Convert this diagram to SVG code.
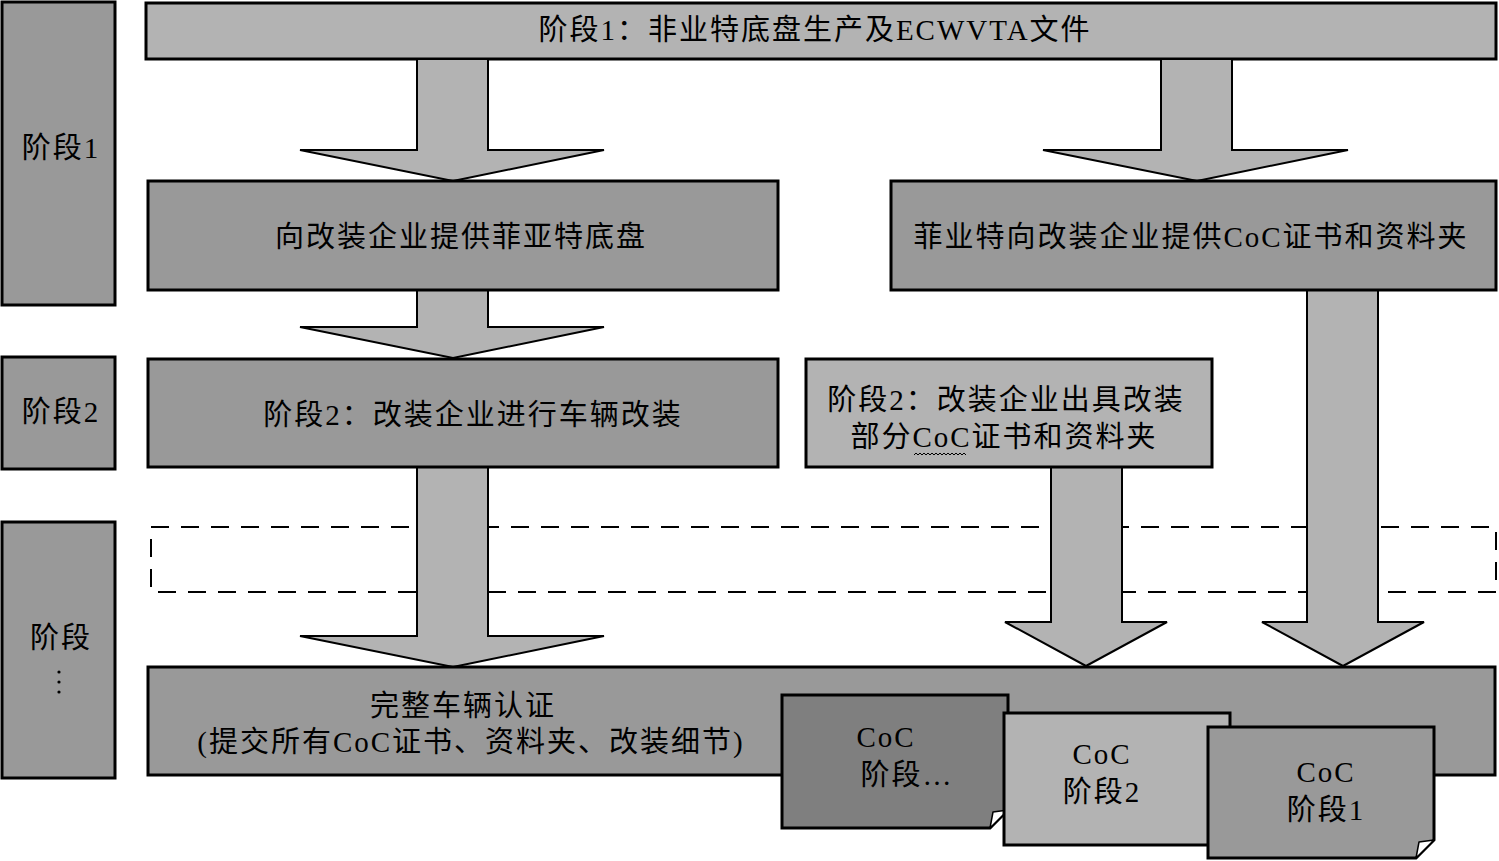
<svg xmlns="http://www.w3.org/2000/svg" width="1499" height="861" viewBox="0 0 1499 861">
<style>
.box{stroke:#000;stroke-width:3}
.dark{fill:#999999}
.light{fill:#b3b3b3}
.arrow{fill:#b3b3b3;stroke:#000;stroke-width:2;stroke-linejoin:miter}
.t{font-family:"Liberation Serif","Noto Sans CJK SC",serif;font-size:29px;letter-spacing:2px;fill:#000;text-anchor:middle}
.dash{fill:none;stroke:#000;stroke-width:2;stroke-dasharray:18 12}
.fold{fill:#fff;stroke:#000;stroke-width:1.5;stroke-linejoin:round}
</style>
<rect width="1499" height="861" fill="#fff"/>

<g id="stage1">
<rect class="box dark" x="2" y="2" width="113" height="303"/>
<text class="t" x="61" y="158">阶段1</text>
</g>
<g id="stage2">
<rect class="box dark" x="2" y="357" width="113" height="112"/>
<text class="t" x="61" y="422">阶段2</text>
</g>
<g id="stageN">
<rect class="box dark" x="2" y="522" width="113" height="256"/>
<text class="t" x="61" y="648">阶段</text>
<circle cx="59" cy="672" r="1.6"/><circle cx="59" cy="682" r="1.6"/><circle cx="59" cy="692" r="1.6"/>
</g>

<g id="dashed-stage">
<rect class="dash" x="151" y="527" width="1345" height="65"/>
</g>

<g id="top-bar">
<rect class="box light" x="146" y="3" width="1350" height="56"/>
<text class="t" x="815" y="40">阶段1：非业特底盘生产及ECWVTA文件</text>
</g>

<g id="connectors">
<path class="arrow" d="M417,59 H488 V150 H604 L453,181 L300,150 H417 Z"/>
<path class="arrow" d="M1161,59 H1232 V150 H1348 L1197,181 L1043,150 H1161 Z"/>
<path class="arrow" d="M417,290 H488 V327 H604 L453,358 L300,327 H417 Z"/>
<path class="arrow" d="M417,467 H488 V636 H604 L453,667 L300,636 H417 Z"/>
<path class="arrow" d="M1051,467 H1122 V622 H1167 L1086,666 L1005,622 H1051 Z"/>
<path class="arrow" d="M1307,290 H1378 V622 H1424 L1343,666 L1262,622 H1307 Z"/>
</g>

<g id="supply-chassis">
<rect class="box dark" x="148" y="181" width="630" height="109"/>
<text class="t" x="461" y="247">向改装企业提供菲亚特底盘</text>
</g>
<g id="supply-coc">
<rect class="box dark" x="891" y="181" width="605" height="109"/>
<text class="t" x="1191" y="247">菲业特向改装企业提供CoC证书和资料夹</text>
</g>
<g id="modify">
<rect class="box dark" x="148" y="359" width="630" height="108"/>
<text class="t" x="473" y="425">阶段2：改装企业进行车辆改装</text>
</g>
<g id="issue-coc">
<rect class="box light" x="806" y="359" width="406" height="108"/>
<text class="t" x="1006" y="410">阶段2：改装企业出具改装</text>
<text class="t" x="1004" y="447">部分CoC证书和资料夹</text>
<path d="M914,455 l2,-2 l2,2 l2,-2 l2,2 l2,-2 l2,2 l2,-2 l2,2 l2,-2 l2,2 l2,-2 l2,2 l2,-2 l2,2 l2,-2 l2,2 l2,-2 l2,2 l2,-2 l2,2 l2,-2 l2,2 l2,-2 l2,2 l2,-2 l2,2" fill="none" stroke="#000" stroke-width="1"/>
</g>

<g id="certification">
<rect class="box dark" x="148" y="667" width="1347" height="108"/>
<text class="t" x="463" y="716">完整车辆认证</text>
<text class="t" x="471" y="752">(提交所有CoC证书、资料夹、改装细节)</text>
</g>

<g id="doc-stageN">
<path class="box" fill="#7f7f7f" d="M782,695 H1008 V810 L990,828 H782 Z"/>
<path class="fold" d="M1008,810 L990,828 L993,812 Z"/>
<text class="t" x="886" y="747">CoC</text>
<text class="t" x="907" y="785">阶段…</text>
</g>
<g id="doc-stage2">
<path class="box" fill="#b3b3b3" d="M1004,713 H1230 V827 L1212,845 H1004 Z"/>
<path class="fold" d="M1230,827 L1212,845 L1215,829 Z"/>
<text class="t" x="1102" y="764">CoC</text>
<text class="t" x="1102" y="802">阶段2</text>
</g>
<g id="doc-stage1">
<path class="box" fill="#999999" d="M1208,727 H1434 V840 L1416,858 H1208 Z"/>
<path class="fold" d="M1434,840 L1416,858 L1419,842 Z"/>
<text class="t" x="1326" y="782">CoC</text>
<text class="t" x="1326" y="820">阶段1</text>
</g>
</svg>
